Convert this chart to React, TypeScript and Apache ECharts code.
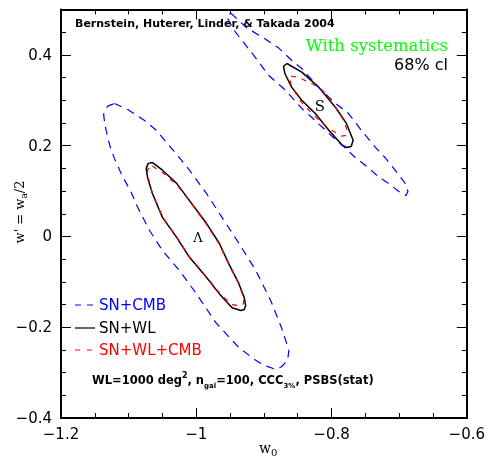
import React, { useEffect, useRef } from "react";
import * as echarts from "echarts";

// Contours: [w0, w'=wa/2]
const lambdaSnCmb: [number, number][] = [
  [-1.121, 0.293], [-1.102, 0.28], [-1.077, 0.256], [-1.059, 0.234], [-1.044, 0.207], [-1.028, 0.179],
  [-1.01, 0.146], [-0.985, 0.095], [-0.962, 0.042], [-0.937, -0.015], [-0.912, -0.075], [-0.89, -0.141],
  [-0.874, -0.201], [-0.863, -0.251], [-0.865, -0.273], [-0.874, -0.287], [-0.882, -0.293], [-0.9, -0.284],
  [-0.912, -0.273], [-0.937, -0.245], [-0.971, -0.19], [-1.0, -0.126], [-1.025, -0.075], [-1.05, -0.031],
  [-1.069, 0.013], [-1.088, 0.068], [-1.096, 0.097], [-1.11, 0.135], [-1.121, 0.172], [-1.128, 0.201],
  [-1.135, 0.245], [-1.137, 0.269], [-1.131, 0.287],
];
const lambdaSnWl: [number, number][] = [
  [-1.065, 0.163], [-1.05, 0.146], [-1.029, 0.117], [-1.01, 0.079], [-0.985, 0.029], [-0.966, -0.015],
  [-0.952, -0.06], [-0.937, -0.104], [-0.929, -0.135], [-0.927, -0.152], [-0.929, -0.161], [-0.934, -0.163],
  [-0.947, -0.157], [-0.966, -0.126], [-0.985, -0.09], [-1.01, -0.046], [-1.029, -0.002], [-1.05, 0.042],
  [-1.065, 0.095], [-1.072, 0.13], [-1.074, 0.15], [-1.071, 0.161],
];
const lambdaSnWlCmb: [number, number][] = [
  [-1.065, 0.155], [-1.05, 0.141], [-1.029, 0.114], [-1.01, 0.078], [-0.985, 0.027], [-0.966, -0.017],
  [-0.952, -0.061], [-0.937, -0.105], [-0.93, -0.135], [-0.93, -0.148], [-0.936, -0.153], [-0.948, -0.15],
  [-0.966, -0.124], [-0.985, -0.089], [-1.01, -0.045], [-1.029, -0.001], [-1.05, 0.043], [-1.065, 0.096],
  [-1.071, 0.129], [-1.072, 0.148],
];
const sSnCmb: [number, number][] = [
  [-0.949, 0.492], [-0.925, 0.459], [-0.9, 0.437], [-0.878, 0.415], [-0.856, 0.384], [-0.844, 0.37],
  [-0.815, 0.322], [-0.794, 0.293], [-0.775, 0.271], [-0.756, 0.234], [-0.735, 0.196], [-0.721, 0.174],
  [-0.706, 0.146], [-0.691, 0.117], [-0.687, 0.099], [-0.69, 0.09], [-0.697, 0.095], [-0.716, 0.117],
  [-0.731, 0.132], [-0.746, 0.152], [-0.765, 0.174], [-0.782, 0.198], [-0.804, 0.227], [-0.829, 0.262],
  [-0.844, 0.282], [-0.868, 0.322], [-0.893, 0.355], [-0.915, 0.399], [-0.944, 0.454], [-0.954, 0.481],
  [-0.953, 0.49],
];
const sSnWl: [number, number][] = [
  [-0.866, 0.381], [-0.844, 0.362], [-0.819, 0.329], [-0.794, 0.284], [-0.778, 0.249], [-0.768, 0.212],
  [-0.771, 0.198], [-0.778, 0.196], [-0.784, 0.201], [-0.804, 0.234], [-0.824, 0.271], [-0.844, 0.3],
  [-0.859, 0.329], [-0.869, 0.359], [-0.871, 0.375],
];
const sSnWlCmb: [number, number][] = [
  [-0.86, 0.353], [-0.849, 0.351], [-0.834, 0.34], [-0.819, 0.329], [-0.807, 0.313], [-0.794, 0.284],
  [-0.782, 0.256], [-0.777, 0.234], [-0.778, 0.223], [-0.785, 0.221], [-0.8, 0.234], [-0.815, 0.251],
  [-0.829, 0.271], [-0.844, 0.295], [-0.853, 0.315], [-0.86, 0.335], [-0.862, 0.348],
];

const legendNames = ["SN+CMB", "SN+WL", "SN+WL+CMB"];
const legendColors = ["#0000ff", "#000000", "#ff0000"];

const xRange = [-1.2, -0.6];
const yRange = [-0.4, 0.5];
const majorStep = 0.2;
const minorStep = 0.05;

const SANS = "DejaVu Sans";
const SERIF = "DejaVu Serif";

function fmt(v: number): string {
  const r = Math.round(v * 10) / 10;
  if (r === 0) return "0";
  return r < 0 ? "\u2212" + String(Math.abs(r)) : String(r);
}

const close = (d: [number, number][]) => d.concat([d[0]]);

export default function App() {
  const ref = useRef<HTMLDivElement>(null);
  useEffect(() => {
    if (!ref.current) return;
    const chart = echarts.init(ref.current, null, { renderer: "svg" });
    const mkAxis = (position: string, range: number[], major: boolean, label: boolean, labelMargin: number) => ({
      type: "value",
      position,
      min: range[0],
      max: range[1],
      interval: major ? majorStep : minorStep,
      axisLine: { show: major, onZero: false, lineStyle: { color: "#000", width: 2 } },
      axisTick: { show: true, inside: true, length: major ? 10 : 5 },
      axisLabel: label
        ? {
            show: true,
            showMaxLabel: position === "left" ? false : true,
            formatter: fmt,
            color: "#000",
            fontFamily: SANS,
            fontSize: 15,
            margin: labelMargin,
          }
        : { show: false },
      splitLine: { show: false },
    });
    const series = [
      { name: "SN+WL", data: close(lambdaSnWl), color: "#000", type: "solid", width: 1.5 },
      { name: "SN+WL", data: close(sSnWl), color: "#000", type: "solid", width: 1.5 },
      { name: "SN+CMB", data: close(lambdaSnCmb), color: "#0000ff", type: [8, 6], width: 1.2 },
      { name: "SN+CMB", data: close(sSnCmb), color: "#0000ff", type: [8, 6], width: 1.2 },
      { name: "SN+WL+CMB", data: close(lambdaSnWlCmb), color: "#ff0000", type: [5, 6], width: 1.2 },
      { name: "SN+WL+CMB", data: close(sSnWlCmb), color: "#ff0000", type: [5, 6], width: 1.2 },
    ].map((s) => ({
      type: "line",
      name: s.name,
      data: s.data,
      xAxisIndex: 0,
      yAxisIndex: 0,
      symbol: "none",
      showSymbol: false,
      smooth: false,
      color: s.color,
      lineStyle: { color: s.color, width: s.width, type: s.type },
      silent: true,
    }));

    const legendY = [305, 328, 350];
    const legendDash: any[] = [[6, 6], null, [5, 7]];
    const legendGraphics: any[] = [];
    legendNames.forEach((n, i) => {
      legendGraphics.push({
        type: "line",
        shape: { x1: 75, y1: legendY[i], x2: 95, y2: legendY[i] },
        style: { stroke: legendColors[i], lineWidth: 1.2, lineDash: legendDash[i] },
      });
      legendGraphics.push({
        type: "text",
        x: 99,
        y: legendY[i],
        style: {
          text: n,
          fontFamily: SANS,
          fontSize: 15,
          fill: legendColors[i],
          align: "left",
          verticalAlign: "middle",
        },
      });
    });

    chart.setOption({
      animation: false,
      grid: { left: 61, right: 19, top: 9.5, bottom: 41 },
      xAxis: [
        mkAxis("bottom", xRange, true, true, 8),
        mkAxis("bottom", xRange, false, false, 8),
        mkAxis("top", xRange, true, false, 8),
        mkAxis("top", xRange, false, false, 8),
      ],
      yAxis: [
        mkAxis("left", yRange, true, true, 9),
        mkAxis("left", yRange, false, false, 9),
        mkAxis("right", yRange, true, false, 9),
        mkAxis("right", yRange, false, false, 9),
      ],
      series,
      graphic: [
        ...legendGraphics,
        {
          type: "text",
          x: 75,
          y: 23,
          style: {
            text: "Bernstein, Huterer, Linder, & Takada 2004",
            fontFamily: SANS,
            fontSize: 11,
            fontWeight: "bold",
            fill: "#000",
            align: "left",
            verticalAlign: "middle",
          },
        },
        {
          type: "text",
          x: 448,
          y: 45,
          style: {
            text: "With systematics",
            fontFamily: SERIF,
            fontSize: 16.5,
            fill: "#00ff00",
            align: "right",
            verticalAlign: "middle",
          },
        },
        {
          type: "text",
          x: 448,
          y: 64,
          style: {
            text: "68% cl",
            fontFamily: SANS,
            fontSize: 16,
            fill: "#000",
            align: "right",
            verticalAlign: "middle",
          },
        },
        {
          type: "text",
          x: 320,
          y: 106,
          style: { text: "S", fontFamily: SERIF, fontSize: 15, fill: "#000", align: "center", verticalAlign: "middle" },
        },
        {
          type: "text",
          x: 198,
          y: 237,
          style: { text: "\u039b", fontFamily: SERIF, fontSize: 13, fill: "#000", align: "center", verticalAlign: "middle" },
        },
        {
          type: "text",
          x: 92,
          y: 380,
          style: {
            text: "{t|WL=1000 deg}{sup|2}{t|, n}{sub|gal}{t|=100, CCC}{sub|3%}{t|, PSBS(stat)}",
            align: "left",
            verticalAlign: "middle",
            rich: {
              t: { fontFamily: SANS, fontSize: 11.5, fontWeight: "bold", lineHeight: 18, fill: "#000" },
              sup: { fontFamily: SANS, fontSize: 8, fontWeight: "bold", lineHeight: 10, verticalAlign: "top", fill: "#000" },
              sub: { fontFamily: SANS, fontSize: 7, fontWeight: "bold", lineHeight: 10, verticalAlign: "bottom", fill: "#000" },
            },
          },
        },
        {
          type: "text",
          x: 259,
          y: 448,
          style: {
            text: "{w|w}{s|0}",
            align: "left",
            verticalAlign: "middle",
            rich: {
              w: { fontFamily: SERIF, fontSize: 14, lineHeight: 18, fill: "#000" },
              s: { fontFamily: SERIF, fontSize: 10, lineHeight: 10, verticalAlign: "bottom", fill: "#000" },
            },
          },
        },
        {
          type: "text",
          x: 19,
          y: 212,
          rotation: Math.PI / 2,
          style: {
            text: "{w|w' = w}{s|a}{w|/2}",
            align: "center",
            verticalAlign: "middle",
            rich: {
              w: { fontFamily: SERIF, fontSize: 13, lineHeight: 18, fill: "#000" },
              s: { fontFamily: SERIF, fontSize: 9, lineHeight: 10, verticalAlign: "bottom", fill: "#000" },
            },
          },
        },
      ],
    });
    return () => chart.dispose();
  }, []);
  return <div ref={ref} style={{ position: "fixed", left: 0, top: 0, width: 488, height: 459 }} />;
}
